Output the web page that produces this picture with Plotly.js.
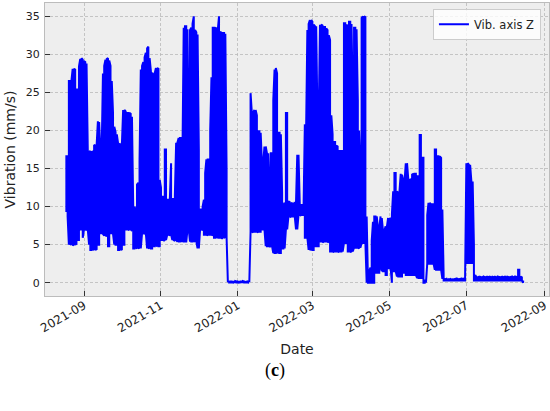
<!DOCTYPE html>
<html>
<head>
<meta charset="utf-8">
<script src="https://cdn.plot.ly/plotly-3.0.1.min.js"></script>
<style>html,body{margin:0;padding:0;background:#fff;}</style>
</head>
<body>
<div id="chart" style="width:550px;height:411px;"></div>
<script>
// Daily samples starting at this date
const startDate = '2021-08-18';
const seriesName = 'Vib. axis Z';

// Daily maximum of the vibration signal (mm/s)
const hi = [
16.6,16.6,26.5,26.5,26.5,28.1,28.1,28.0,25.4,25.4,
28.4,29.4,29.5,29.3,29.1,29.0,28.8,17.3,17.2,17.3,
17.1,17.3,18.1,18.0,18.1,21.2,21.1,17.3,17.2,27.5,
28.5,29.3,29.4,29.5,29.2,28.5,26.5,22.3,20.5,19.8,
19.5,18.3,18.3,18.1,18.1,22.7,22.7,22.5,22.3,22.3,
22.3,22.2,21.8,10.0,10.0,9.6,12.9,13.1,16.0,28.0,
28.5,29.0,29.6,30.2,30.8,31.0,29.5,27.8,27.6,27.3,
27.5,28.2,28.2,28.1,13.5,12.5,11.3,11.3,17.5,17.5,
10.9,10.9,10.9,15.7,11.0,11.0,11.5,18.4,18.4,19.0,
19.0,19.0,16.6,33.5,33.7,33.7,33.3,20.5,33.2,33.5,
34.0,35.0,33.2,32.9,32.6,17.5,9.6,9.6,10.0,10.9,
14.4,16.2,16.2,16.2,20.0,27.0,33.5,33.5,33.5,33.4,
33.2,35.0,33.0,32.8,32.8,32.8,32.7,14.8,0.15,0.12,
0.15,0.15,0.1,0.15,0.2,0.15,0.15,0.1,0.15,0.15,
0.2,0.15,0.1,0.15,0.15,0.15,24.9,22.3,22.3,22.7,
22.7,22.0,19.9,19.9,19.7,15.7,15.7,17.9,17.9,17.0,
17.0,12.5,17.0,17.0,24.0,28.0,28.2,27.5,19.7,19.7,
19.5,11.8,10.2,10.5,22.3,22.3,10.7,10.6,10.4,10.5,
10.2,10.6,10.5,16.8,16.8,10.2,10.2,10.2,10.0,20.8,
20.0,33.2,34.0,34.5,34.5,34.3,33.9,33.7,33.7,21.9,
21.5,33.9,33.9,33.8,33.6,33.6,33.4,33.2,32.5,31.9,
22.0,19.5,18.5,18.5,18.0,17.9,17.3,17.3,17.3,17.3,
34.1,34.1,33.9,33.7,34.3,34.3,34.0,24.0,33.5,33.5,
33.3,24.0,20.0,15.3,34.8,35.0,35.0,34.9,8.7,0.5,
1.5,2.0,5.5,8.0,8.7,8.7,8.7,7.0,7.2,8.7,
8.5,6.7,6.8,7.4,7.3,8.5,8.3,8.5,9.0,12.0,
14.4,14.4,12.0,11.8,12.0,14.3,14.2,13.4,13.3,15.7,
15.7,13.6,13.5,13.6,14.2,14.3,14.3,14.3,14.0,14.0,
19.4,19.4,16.4,16.4,0.3,0.3,8.9,10.5,10.5,10.3,
10.3,10.3,17.5,17.5,16.6,16.6,16.6,16.4,9.6,1.0,
0.45,0.5,0.4,0.5,0.55,0.45,0.5,0.4,0.5,0.55,
0.5,0.45,0.5,0.55,0.5,0.55,0.6,15.7,15.7,15.5,
15.5,13.3,13.3,5.0,1.0,0.75,0.7,0.8,0.75,0.7,
0.75,0.85,0.7,0.75,0.7,0.75,0.8,0.7,0.75,0.7,
0.75,0.7,0.8,0.75,0.7,0.75,0.7,0.75,0.85,0.7,
0.75,0.7,0.75,0.8,0.7,0.75,0.8,0.75,1.7,1.7,
0.8,0.7,0.3
];

// Daily minimum of the vibration signal (mm/s)
const lo = [
9.3,8.7,5.0,5.0,5.1,4.9,5.0,5.0,5.1,5.6,
5.6,7.0,7.0,5.9,7.0,7.0,6.9,7.0,5.0,4.3,
4.3,4.4,4.3,4.3,4.4,5.0,5.0,6.5,6.5,6.4,
6.2,6.2,6.1,4.8,4.8,6.5,6.5,6.4,5.0,5.0,
5.0,4.3,4.3,4.4,4.3,5.0,5.0,7.0,7.0,6.9,
7.0,7.0,6.8,4.5,4.5,4.6,4.5,4.5,4.6,4.5,
6.5,6.5,6.4,6.5,4.5,4.5,4.6,4.5,4.5,4.8,
4.8,4.9,4.8,4.8,4.8,5.6,5.6,5.5,5.6,5.6,
6.3,6.3,6.2,6.3,5.6,5.6,5.5,5.6,5.4,5.4,
5.4,5.5,5.4,5.4,5.4,5.3,7.0,7.0,5.4,5.4,
5.4,5.4,5.5,5.4,4.5,4.5,7.0,7.0,6.9,6.3,
6.3,6.3,6.2,6.3,6.3,6.3,6.2,5.9,5.9,6.0,
5.9,5.9,5.9,5.8,5.9,5.9,6.0,5.9,0.05,0.03,
0.05,0.05,0.02,0.05,0.05,0.03,0.05,0.02,0.05,0.05,
0.05,0.03,0.05,0.05,0.02,0.05,6.7,6.7,6.6,6.7,
6.7,6.7,6.6,6.7,6.7,7.0,7.0,7.0,4.8,4.8,
4.8,4.7,4.8,4.8,3.9,3.9,3.9,4.0,3.9,3.9,
3.9,4.5,4.5,4.5,7.0,7.0,8.7,8.7,8.6,8.7,
8.7,8.7,7.0,7.0,8.9,8.9,8.8,8.9,8.9,5.9,
5.9,5.9,4.3,4.3,4.4,4.3,4.3,4.8,4.8,4.8,
4.8,5.4,5.4,5.3,5.4,5.4,5.4,5.3,5.4,4.1,
4.1,4.1,4.0,4.1,4.1,4.1,4.0,4.1,4.1,4.1,
5.2,5.2,5.2,4.1,4.1,4.0,4.1,4.1,4.6,4.6,
4.6,4.6,4.5,4.6,5.2,5.2,5.2,5.2,0.0,0.0,
0.0,0.0,0.0,0.0,0.0,1.3,1.3,1.3,1.3,2.1,
1.5,1.5,1.5,1.0,1.0,1.9,1.9,1.9,0.0,1.5,
1.5,1.5,0.8,0.8,0.8,0.8,0.8,1.3,1.3,1.0,
1.0,1.0,1.0,1.0,1.0,1.0,1.0,1.0,0.6,0.6,
0.6,0.6,0.6,0.0,0.0,0.0,2.5,2.5,2.5,2.5,
2.5,2.5,1.7,1.7,1.7,1.7,1.7,1.7,0.5,0.3,
0.3,0.3,0.3,0.3,0.3,0.3,0.3,0.3,0.3,0.3,
0.3,0.3,0.3,0.3,0.3,0.3,0.3,2.6,2.6,2.6,
2.6,2.6,2.6,0.3,0.3,0.3,0.3,0.3,0.3,0.3,
0.3,0.3,0.3,0.3,0.3,0.3,0.3,0.3,0.3,0.3,
0.3,0.3,0.3,0.3,0.3,0.3,0.3,0.3,0.3,0.3,
0.3,0.3,0.3,0.3,0.3,0.3,0.3,0.3,0.3,0.3,
0.3,0.3,0.0
];

// Build the plotted series: each day contributes its min and max reading
const x = [], y = [];
const t0 = Date.parse(startDate + 'T00:00:00Z');
for (let i = 0; i < hi.length; i++) {
  const d = new Date(t0 + i * 86400000).toISOString().slice(0, 10);
  if (i % 2 === 0) { x.push(d, d); y.push(lo[i], hi[i]); }
  else { x.push(d, d); y.push(hi[i], lo[i]); }
}

const trace = {
  x: x, y: y, type: 'scatter', mode: 'lines', name: seriesName,
  line: {color: '#0000ff', width: 2}
};

const gridStyle = {gridcolor: '#b9b9b9', griddash: '3px,2px', gridwidth: 0.8};

const layout = {
  width: 550, height: 411,
  margin: {l: 45, r: 1, t: 3, b: 115},
  paper_bgcolor: '#ffffff', plot_bgcolor: '#eeeeee',
  font: {family: 'DejaVu Sans', color: '#222222', size: 11},
  showlegend: true,
  xaxis: Object.assign({
    type: 'date',
    range: ['2021-08-01 02:00', '2022-09-04 12:00'],
    tick0: '2021-09-01', dtick: 'M2', tickformat: '%Y-%m',
    tickangle: -30, ticks: 'inside', ticklen: 5, tickcolor: '#333333', tickwidth: 1,
    tickfont: {size: 12}, ticklabelstandoff: -3,
    showline: true, mirror: true, linecolor: '#bcbcbc', linewidth: 1,
    zeroline: false, automargin: false,
    title: {text: 'Date', font: {size: 14, color: '#222222'}, standoff: 9}
  }, gridStyle),
  yaxis: Object.assign({
    range: [-1.75, 36.75], tick0: 0, dtick: 5,
    ticks: 'inside', ticklen: 5, tickcolor: '#333333', tickwidth: 1,
    showline: true, mirror: true, linecolor: '#bcbcbc', linewidth: 1,
    zeroline: false, automargin: false, ticklabelstandoff: 2,
    title: {text: 'Vibration (mm/s)', font: {size: 14, color: '#222222'}, standoff: 6}
  }, gridStyle),
  legend: {
    x: 0.984, xanchor: 'right', y: 0.98, yanchor: 'top',
    bgcolor: 'rgba(255,255,255,0.8)', bordercolor: '#cccccc', borderwidth: 1,
    font: {size: 11.5, color: '#222222'}
  },
  annotations: [{
    text: '(<b>c</b>)', xref: 'paper', yref: 'paper',
    x: 0.456, y: -0.2526, xanchor: 'center', yanchor: 'middle',
    showarrow: false, font: {family: 'Liberation Serif', size: 18, color: '#000000'}
  }]
};

Plotly.newPlot('chart', [trace], layout, {displayModeBar: false, staticPlot: true});
</script>
</body>
</html>
